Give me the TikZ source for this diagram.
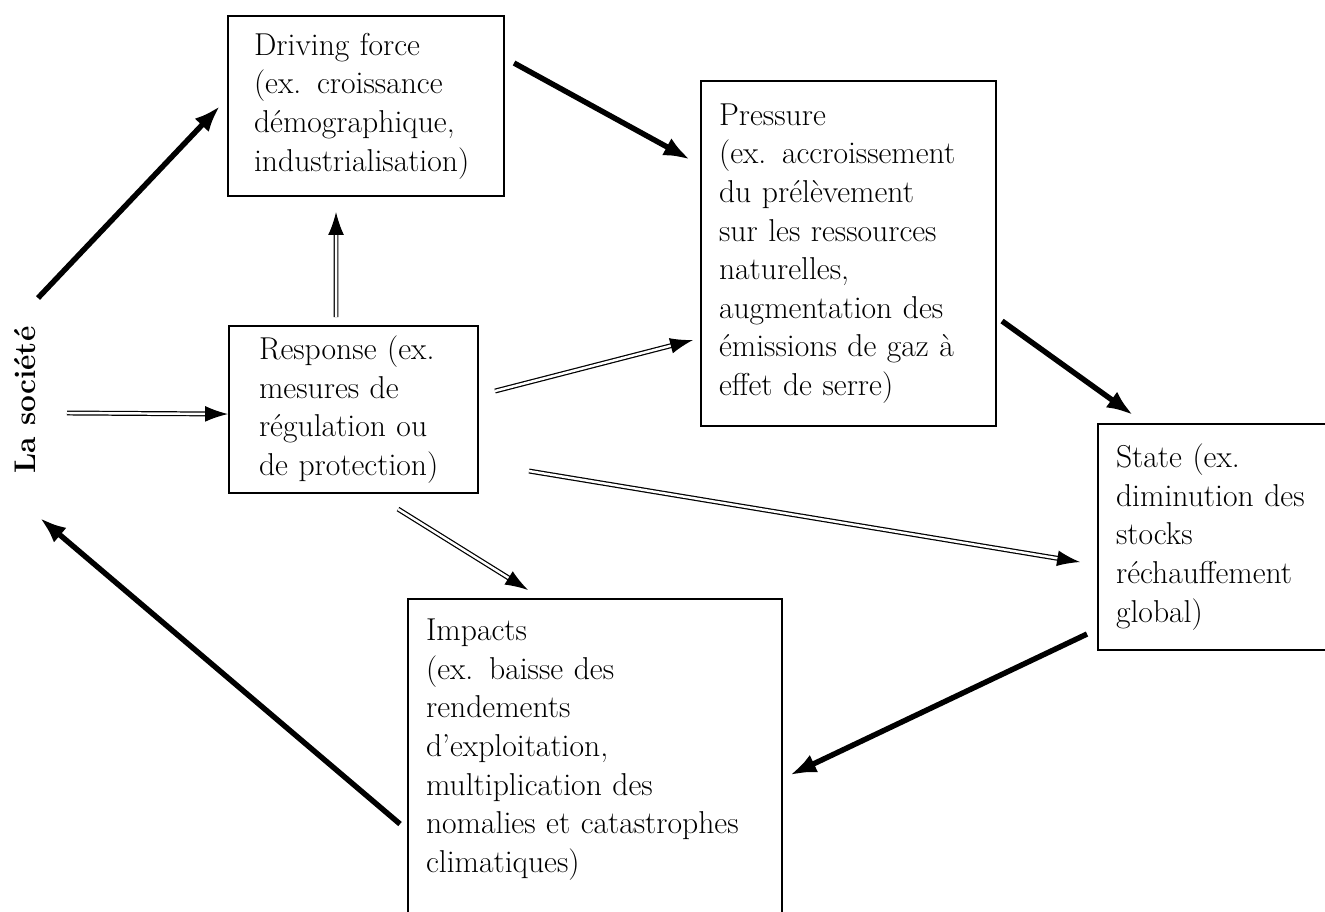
\documentclass[tikz,border=0pt]{standalone}
\usetikzlibrary{arrows.meta,calc}
\newcommand{\dpsirtext}{\fontsize{18}{22}\selectfont\hyphenpenalty=10000}
\begin{document}
\begin{tikzpicture}[x=0.02cm,y=-0.02cm,
  box/.style={draw, line width=1.2pt, anchor=north west, align=left, font=\dpsirtext, inner xsep=0pt, inner ysep=0pt},
  inset/.style={execute at begin node={\leftskip=#1\relax}},
  thk/.style={line width=3.1pt, -{Latex[length=15pt,width=11pt]}},
  dbl/.style={double, double distance=1.4pt, line width=0.7pt, -{Latex[length=13pt,width=9pt]}}]
\useasboundingbox (0,0) rectangle (1325,912);
% boxes
\node[box, text width=5.52cm, minimum height=3.6cm, inset=0.52cm] (driving) at (227,15)
  {Driving force\\(ex. croissance\\démographique,\\industrialisation)};
\node[box, text width=5.9cm, minimum height=6.9cm, inset=0.36cm] (pressure) at (700,80)
  {Pressure\\(ex. accroissement\\du prélèvement\\sur les ressources\\naturelles,\\augmentation des\\émissions de gaz à\\effet de serre)};
\node[box, text width=4.98cm, minimum height=3.34cm, inset=0.6cm] (response) at (228,325)
  {Response (ex.\\mesures de\\régulation ou\\de protection)};
\node[box, text width=5.2cm, minimum height=4.52cm, inset=0.36cm] (state) at (1097,423)
  {State (ex.\\diminution des\\stocks\\réchauffement\\global)};
\node[box, text width=7.48cm, minimum height=6.64cm, inset=0.36cm] (impacts) at (407,598)
  {Impacts\\(ex. baisse des\\rendements\\d'exploitation,\\multiplication des\\nomalies et catastrophes\\climatiques)\\\mbox{}};
\node[rotate=90, font=\fontsize{17}{20}\selectfont\bfseries] (society) at (25,400) {La société};
\coordinate (soctop) at (38,298);
\coordinate (socmid) at (67,413);
\coordinate (socbot) at (40,518);
% cycle
\draw[thk] (soctop) -- ($(driving.west)+(-7,0)$);
\draw[thk] ($(driving.east)+(9,-43)$) -- ($(pressure.west)+(-10,-94)$);
\draw[thk] ($(pressure.east)+(5,67.5)$) -- ($(state.north)+(-95,-8)$);
\draw[thk] ($(state.west)+(-10,97)$) -- ($(impacts.east)+(7,10)$);
\draw[thk] ($(impacts.west)+(-7,59)$) -- (socbot);
% responses
\draw[dbl] (socmid) -- ($(response.west)+(0,4.5)$);
\draw[dbl] ($(response.north)+(-17.5,-8)$) -- ($(driving.south)+(-30,15)$);
\draw[dbl] ($(response.east)+(16,-18.5)$) -- ($(pressure.west)+(-7,86.5)$);
\draw[dbl] ($(response.east)+(50,61.5)$) -- ($(state.west)+(-17,25)$);
\draw[dbl] ($(response.south)+(44.5,15)$) -- ($(impacts.north)+(-67,-8)$);
\end{tikzpicture}
\end{document}
